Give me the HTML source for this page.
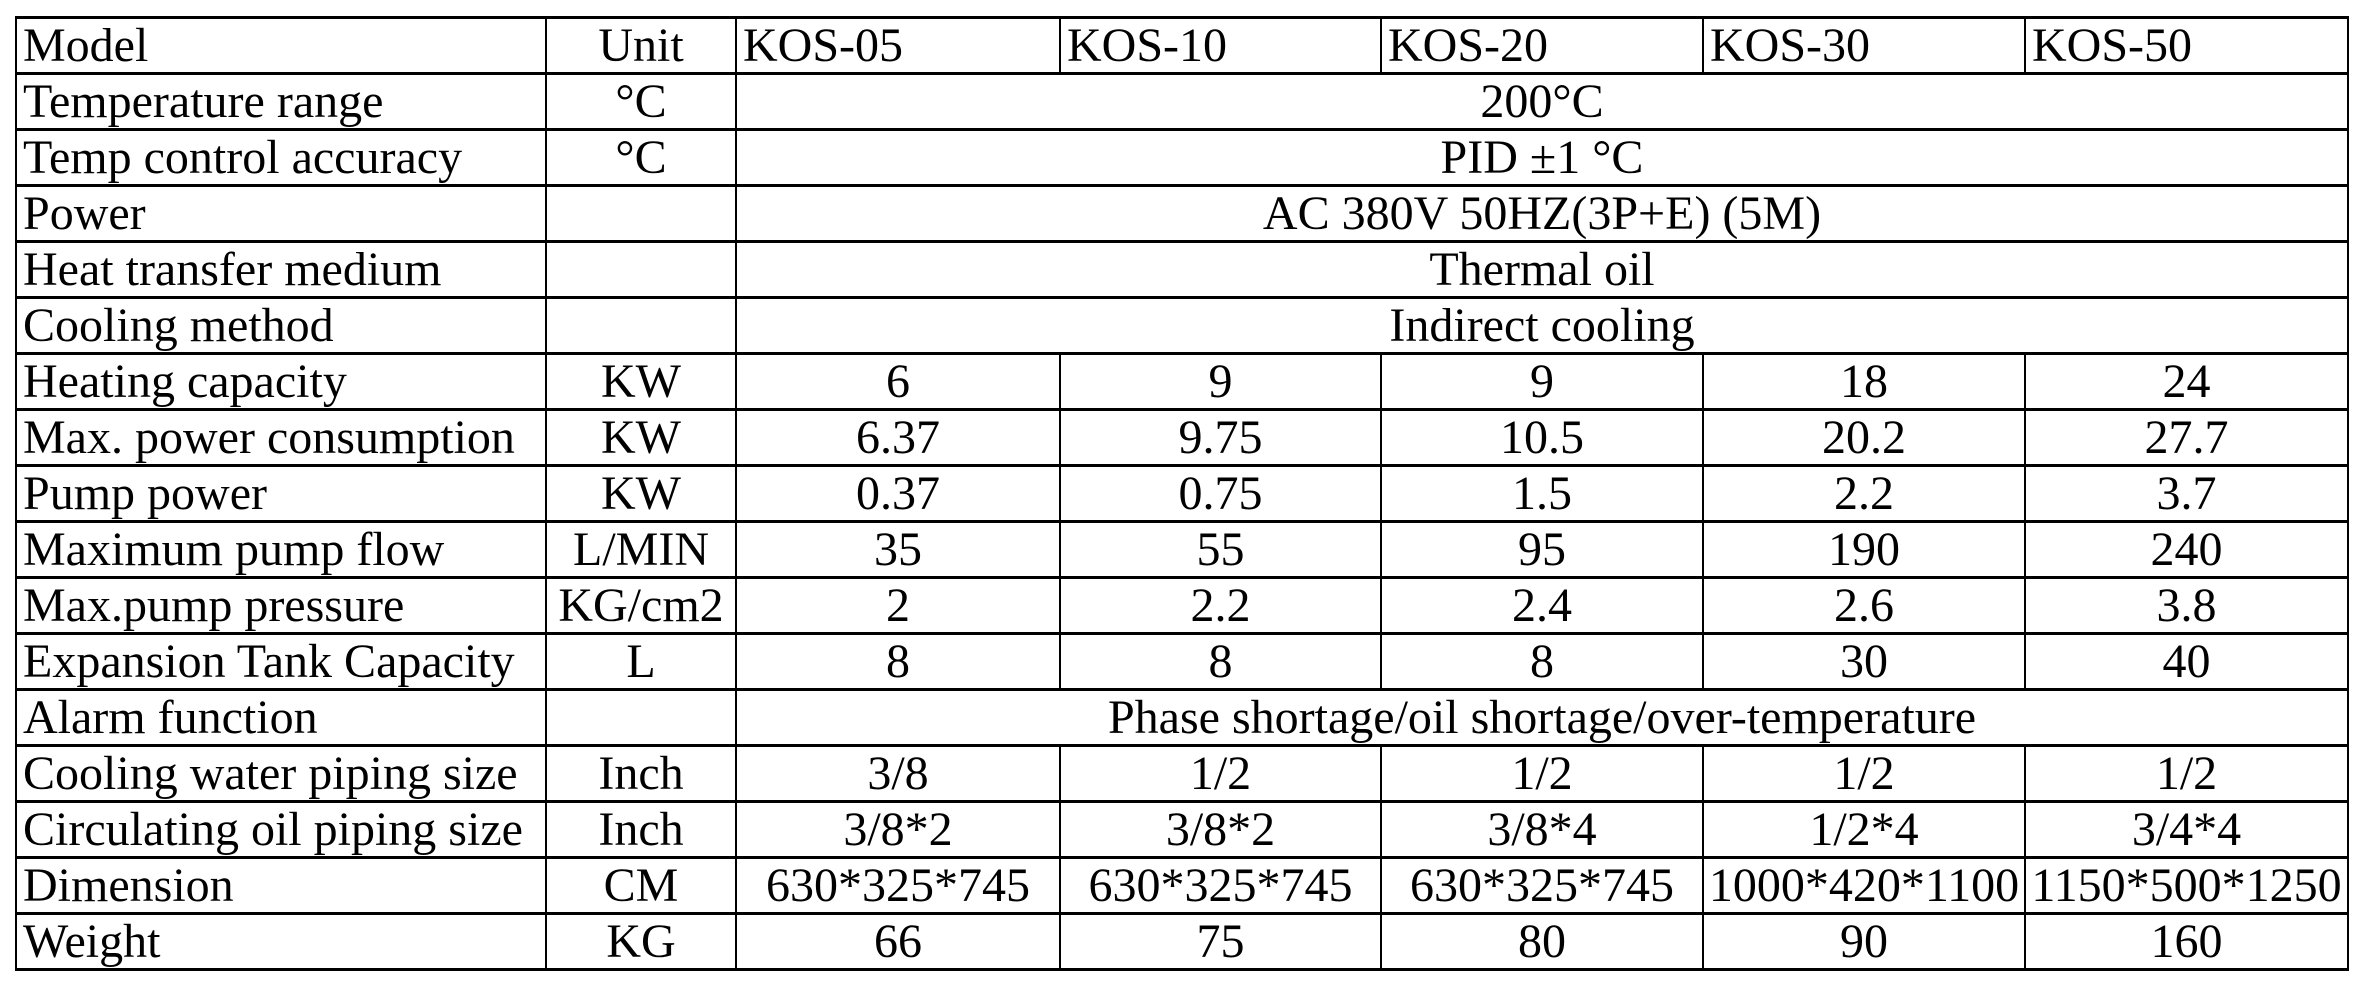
<!DOCTYPE html>
<html><head><meta charset="utf-8"><style>
html,body{margin:0;padding:0;background:#fff;width:2362px;height:984px;overflow:hidden}
table{position:absolute;left:15px;top:16px;border-collapse:collapse;table-layout:fixed;width:2332px;
font-family:"Liberation Serif",serif;font-size:48px;color:#000}
td{border:2px solid #000;border-top:3px solid #000;border-bottom:3px solid #000;height:53px;padding:0 6px;white-space:nowrap;overflow:hidden;text-align:center;line-height:53px}
td.l{text-align:left}
</style></head><body>
<table>
<colgroup><col style="width:530px"><col style="width:190px"><col style="width:324px"><col style="width:321px"><col style="width:322px"><col style="width:322px"><col style="width:323px"></colgroup>
<tr><td class="l">Model</td><td>Unit</td><td class="l">KOS-05</td><td class="l">KOS-10</td><td class="l">KOS-20</td><td class="l">KOS-30</td><td class="l">KOS-50</td></tr>
<tr><td class="l">Temperature range</td><td>°C</td><td colspan="5">200°C</td></tr>
<tr><td class="l">Temp control accuracy</td><td>°C</td><td colspan="5">PID ±1 °C</td></tr>
<tr><td class="l">Power</td><td></td><td colspan="5">AC 380V 50HZ(3P+E) (5M)</td></tr>
<tr><td class="l">Heat transfer medium</td><td></td><td colspan="5">Thermal oil</td></tr>
<tr><td class="l">Cooling method</td><td></td><td colspan="5">Indirect cooling</td></tr>
<tr><td class="l">Heating capacity</td><td>KW</td><td>6</td><td>9</td><td>9</td><td>18</td><td>24</td></tr>
<tr><td class="l">Max. power consumption</td><td>KW</td><td>6.37</td><td>9.75</td><td>10.5</td><td>20.2</td><td>27.7</td></tr>
<tr><td class="l">Pump power</td><td>KW</td><td>0.37</td><td>0.75</td><td>1.5</td><td>2.2</td><td>3.7</td></tr>
<tr><td class="l">Maximum pump flow</td><td>L/MIN</td><td>35</td><td>55</td><td>95</td><td>190</td><td>240</td></tr>
<tr><td class="l">Max.pump pressure</td><td>KG/cm2</td><td>2</td><td>2.2</td><td>2.4</td><td>2.6</td><td>3.8</td></tr>
<tr><td class="l">Expansion Tank Capacity</td><td>L</td><td>8</td><td>8</td><td>8</td><td>30</td><td>40</td></tr>
<tr><td class="l">Alarm function</td><td></td><td colspan="5">Phase shortage/oil shortage/over-temperature</td></tr>
<tr><td class="l">Cooling water piping size</td><td>Inch</td><td>3/8</td><td>1/2</td><td>1/2</td><td>1/2</td><td>1/2</td></tr>
<tr><td class="l">Circulating oil piping size</td><td>Inch</td><td>3/8*2</td><td>3/8*2</td><td>3/8*4</td><td>1/2*4</td><td>3/4*4</td></tr>
<tr><td class="l">Dimension</td><td>CM</td><td style="padding:0">630*325*745</td><td style="padding:0">630*325*745</td><td style="padding:0">630*325*745</td><td style="padding:0">1000*420*1100</td><td style="padding:0">1150*500*1250</td></tr>
<tr><td class="l">Weight</td><td>KG</td><td>66</td><td>75</td><td>80</td><td>90</td><td>160</td></tr>
</table>
</body></html>
